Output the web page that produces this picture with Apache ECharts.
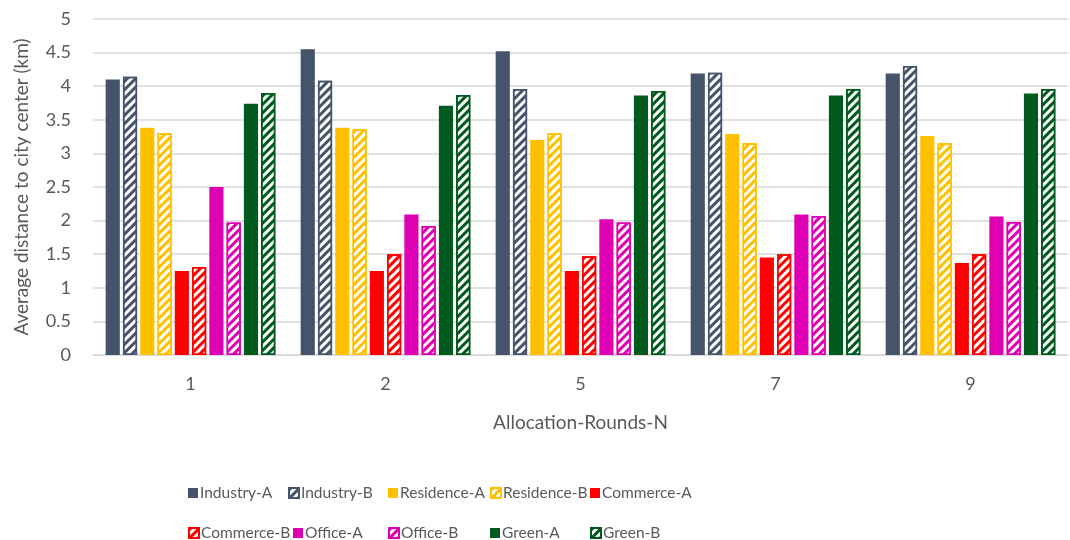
<!DOCTYPE html>
<html>
<head>
<meta charset="utf-8">
<script src="https://cdn.jsdelivr.net/npm/echarts@6/dist/echarts.min.js"></script>
<style>
  html, body { margin: 0; padding: 0; background: #fff; }
  #chart { width: 1070px; height: 540px; }
</style>
</head>
<body>
<div id="chart"></div>
<script>
const rounds = ["1", "2", "5", "7", "9"];
const yTicks = [0, 0.5, 1, 1.5, 2, 2.5, 3, 3.5, 4, 4.5, 5];

const industryA = [4.10, 4.55, 4.52, 4.19, 4.19];
const industryB = [4.14, 4.08, 3.96, 4.20, 4.30];
const residenceA = [3.38, 3.38, 3.20, 3.29, 3.26];
const residenceB = [3.30, 3.36, 3.30, 3.15, 3.15];
const commerceA = [1.25, 1.25, 1.25, 1.45, 1.37];
const commerceB = [1.31, 1.50, 1.47, 1.50, 1.50];
const officeA = [2.50, 2.09, 2.02, 2.09, 2.06];
const officeB = [1.97, 1.92, 1.97, 2.07, 1.98];
const greenA = [3.74, 3.71, 3.86, 3.86, 3.89];
const greenB = [3.90, 3.87, 3.93, 3.96, 3.96];

const seriesNames = ["Industry-A", "Industry-B", "Residence-A", "Residence-B", "Commerce-A",
  "Commerce-B", "Office-A", "Office-B", "Green-A", "Green-B"];
const seriesData = [industryA, industryB, residenceA, residenceB, commerceA,
  commerceB, officeA, officeB, greenA, greenB];

const colors = {
  Industry: "#44546A",
  Residence: "#FFC000",
  Commerce: "#FF0000",
  Office: "#E000B4",
  Green: "#005A1E"
};

const FONT = "Lato";
const TEXT = "#595959";

// legend slots (two rows of five, like the original)
const legendLeft = [183, 283, 383, 485, 585, 183, 288, 383, 485, 585];
const legendTop = [480, 480, 480, 480, 480, 520, 520, 520, 520, 520];

const series = seriesNames.map((name, i) => {
  const base = colors[name.split("-")[0]];
  const hatched = name.endsWith("-B");
  return {
    name,
    type: "bar",
    data: seriesData[i],
    barGap: "22%",
    barCategoryGap: "13%",
    itemStyle: hatched
      ? {
          color: "#ffffff",
          borderColor: base,
          borderWidth: 1.5,
          decal: {
            symbol: "rect",
            symbolSize: 1,
            color: base,
            dashArrayX: [1, 0],
            dashArrayY: [3, 3],
            rotation: -Math.PI / 4
          }
        }
      : { color: base }
  };
});

const legends = seriesNames.map((name, i) => ({
  data: [name],
  left: legendLeft[i],
  top: legendTop[i],
  icon: "rect",
  itemWidth: 10,
  itemHeight: 10,
  itemGap: 0,
  selectedMode: false,
  textStyle: { fontFamily: FONT, fontSize: 15.5, color: TEXT, padding: [0, 0, 0, -3] }
}));

const chart = echarts.init(document.getElementById("chart"));
chart.setOption({
  animation: false,
  legend: legends,
  grid: { left: 93, right: 2, top: 19, bottom: 185, containLabel: false },
  xAxis: {
    type: "category",
    data: rounds,
    name: "Allocation-Rounds-N",
    nameLocation: "middle",
    nameGap: 58,
    nameTextStyle: { fontFamily: FONT, fontSize: 19, color: TEXT },
    axisLine: { lineStyle: { color: "#D9D9D9", width: 1.5 } },
    axisTick: { show: false },
    axisLabel: { fontFamily: FONT, fontSize: 18, color: TEXT, margin: 20 }
  },
  yAxis: {
    type: "value",
    min: yTicks[0],
    max: yTicks[yTicks.length - 1],
    interval: 0.5,
    name: "Average distance to city center (km)",
    nameLocation: "middle",
    nameGap: 62,
    nameTextStyle: { fontFamily: FONT, fontSize: 19, color: TEXT },
    axisLine: { show: false },
    axisTick: { show: false },
    axisLabel: { fontFamily: FONT, fontSize: 18, color: TEXT, margin: 22 },
    splitLine: { lineStyle: { color: "#D9D9D9", width: 1.5 } }
  },
  series
});
</script>
</body>
</html>
